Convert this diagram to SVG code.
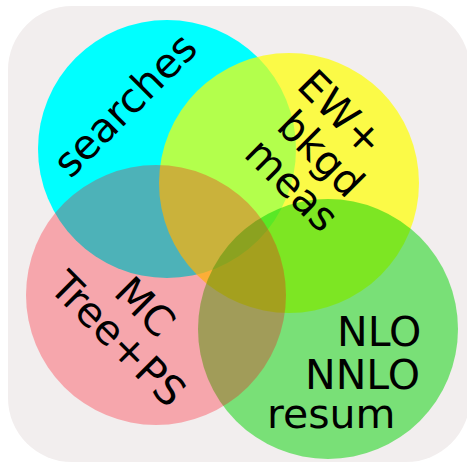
<svg xmlns="http://www.w3.org/2000/svg" width="467" height="466" viewBox="0 0 467 466">
  <style>
    .lbl { font-family: "DejaVu Sans", sans-serif; font-size: 41px; fill: #000; }
    .mid { text-anchor: middle; }
  </style>
  <rect id="background" x="8" y="6" width="462" height="456" rx="64" ry="64" fill="#f2eeee"/>
  <g id="node-searches"><circle cx="167" cy="149" r="129" fill="#00ffff"/></g>
  <g id="node-ew"><circle cx="289" cy="183" r="130" fill="#ffff00" fill-opacity="0.7"/></g>
  <g id="node-nlo"><circle cx="328" cy="329" r="130" fill="#00d200" fill-opacity="0.5"/></g>
  <g id="node-mc"><circle cx="156" cy="295" r="130" fill="#ff0014" fill-opacity="0.3"/></g>
  <g id="connectors"></g>
  <g id="labels" class="lbl">
    <g id="label-searches"><text class="mid" transform="translate(135,115) rotate(-45)">searches</text></g>
    <g id="label-ew">
      <text class="mid" transform="translate(331,123) rotate(45)">EW+</text>
      <text class="mid" transform="translate(311,164) rotate(45)">bkgd</text>
      <text class="mid" transform="translate(282,195) rotate(45)">meas</text>
    </g>
    <g id="label-mc">
      <text class="mid" transform="translate(135,317) rotate(45)">MC</text>
      <text class="mid" transform="translate(108,349) rotate(45)">Tree+PS</text>
    </g>
    <g id="label-nlo">
      <text x="337" y="346">NLO</text>
      <text x="305" y="389">NNLO</text>
      <text x="267" y="428">resum</text>
    </g>
  </g>
</svg>
